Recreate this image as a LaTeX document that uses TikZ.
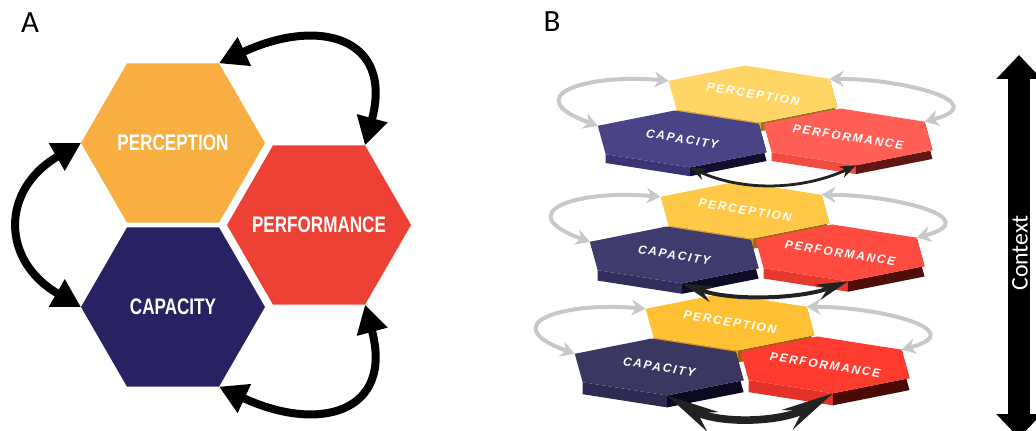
\documentclass[tikz,border=0pt]{standalone}
\usepackage{fontspec}
\setmainfont{Carlito}
\newfontfamily\hexfont[FakeStretch=0.76]{Liberation Sans}
\newfontfamily\slabfont[LetterSpace=15]{Liberation Sans}
\usetikzlibrary{arrows.meta, shapes.geometric, calc}

\definecolor{percA}{HTML}{F9AE42}
\definecolor{perfA}{HTML}{EE4136}
\definecolor{capaA}{HTML}{282262}
% layer colours: top face, front side, dark side
\definecolor{perB1}{HTML}{FFD566}\definecolor{perS1}{HTML}{D9A93A}\definecolor{perD1}{HTML}{9C7420}
\definecolor{capB1}{HTML}{4A4386}\definecolor{capS1}{HTML}{3A3474}\definecolor{capD1}{HTML}{120E2E}
\definecolor{prfB1}{HTML}{FF5F55}\definecolor{prfS1}{HTML}{F24B40}\definecolor{prfD1}{HTML}{5E1712}
\definecolor{perB2}{HTML}{FFC947}\definecolor{perS2}{HTML}{D99F2C}\definecolor{perD2}{HTML}{9A6C14}
\definecolor{capB2}{HTML}{3F3B6C}\definecolor{capS2}{HTML}{322F5C}\definecolor{capD2}{HTML}{0E0C24}
\definecolor{prfB2}{HTML}{FF4B40}\definecolor{prfS2}{HTML}{E63A30}\definecolor{prfD2}{HTML}{4E0E0A}
\definecolor{perB3}{HTML}{FFC133}\definecolor{perS3}{HTML}{D99520}\definecolor{perD3}{HTML}{986410}
\definecolor{capB3}{HTML}{3A3761}\definecolor{capS3}{HTML}{2E2B52}\definecolor{capD3}{HTML}{0C0A20}
\definecolor{prfB3}{HTML}{FF3B30}\definecolor{prfS3}{HTML}{E53228}\definecolor{prfD3}{HTML}{4A0A06}
\definecolor{linkgrey}{HTML}{C8C8C8}
\definecolor{linkdark}{HTML}{222222}

\newcommand{\slabdepth}{2.2mm}
% #1 name, #2 centre, #3 top colour, #4 front side, #5 dark side
\newcommand{\hexslab}[5]{%
  \coordinate (#1) at #2;
  \foreach \ang/\vx in {30/ur,90/t,150/ul,210/ll,270/b,330/lr}
    \coordinate (#1-\vx) at ($(#1)+(\ang:0.97)$);
  \fill[#4] (#1-ll) -- (#1-b) -- ($(#1-b)+(0mm,-\slabdepth)$) -- ($(#1-ll)+(0mm,-\slabdepth)$) -- cycle;
  \fill[#5] (#1-b) -- (#1-lr) -- (#1-ur) -- ($(#1-ur)+(0mm,-\slabdepth)$) -- ($(#1-lr)+(0mm,-\slabdepth)$) -- ($(#1-b)+(0mm,-\slabdepth)$) -- cycle;
  \fill[#3] (#1-ur) -- (#1-t) -- (#1-ul) -- (#1-ll) -- (#1-b) -- (#1-lr) -- cycle;
}

\tikzset{
  hexa/.style={regular polygon, regular polygon sides=6, minimum size=46mm, inner sep=0pt, outer sep=0pt},
  hexlabel/.style={text=white, inner sep=0pt, font=\hexfont\bfseries\fontsize{16}{18}\selectfont},
  loopy/.style={line width=2mm, {Triangle[length=7mm,width=7.5mm]}-{Triangle[length=7mm,width=7.5mm]}},
  greyloop/.style={draw=linkgrey, line width=1mm, {Stealth[length=3.5mm,width=4mm]}-{Stealth[length=3.5mm,width=4mm]}},
  linkthin/.style={draw=linkdark, line width=0.7mm, {Stealth[length=4mm,width=3mm]}-{Stealth[length=4mm,width=3mm]}},
  linkmid/.style={draw=linkdark, line width=1mm, {Stealth[length=8mm,width=4mm]}-{Stealth[length=8mm,width=4mm]}},
  linkbold/.style={draw=linkdark, line width=1.9mm, {Stealth[length=13mm,width=5.5mm]}-{Stealth[length=13mm,width=5.5mm]}},
  slabtext/.style={text=white, rotate=-9, inner sep=0pt, font=\slabfont\bfseries\itshape\fontsize{8.5}{9}\selectfont},
  ctxarrow/.style={line width=5.5mm, {Triangle[length=6mm,width=11mm]}-{Triangle[length=6mm,width=11mm]}}
}

\begin{document}
\begin{tikzpicture}[x=0.25mm, y=0.25mm]
\useasboundingbox (0,0) rectangle (1036,430);

% A
\node[font=\fontsize{22}{24}\selectfont] (labA) at (30,407) {A};
\node[hexa, fill=percA] (perc) at (173,287) {};
\node[hexa, fill=capaA] (capa) at (173,123) {};
\node[hexa, fill=perfA] (perf) at (319,205) {};
\node[hexlabel] (tperc) at (perc) {PERCEPTION};
\node[hexlabel] (tcapa) at (capa) {CAPACITY};
\node[hexlabel] (tperf) at (perf) {PERFORMANCE};
\draw[loopy] (perc.60) to[out=25,in=75,looseness=1.7] (perf.60);
\draw[loopy] (capa.-60) to[out=-25,in=-75,looseness=1.7] (perf.-60);
\draw[loopy] (perc.180) to[out=210,in=150,looseness=1.45] (capa.180);

% B
\node[font=\fontsize{22}{24}\selectfont] (labB) at (552,408) {B};

\begin{scope}[shift={(753,336)}, x={(23.95mm,0.3mm)}, y={(-2.025mm,7.325mm)}]
  \renewcommand{\slabdepth}{2.2mm}
  \hexslab{per1}{(0,0)}{perB1}{perS1}{perD1}
  \hexslab{cap1}{(-0.866,-1.5)}{capB1}{capS1}{capD1}
  \hexslab{prf1}{(0.866,-1.5)}{prfB1}{prfS1}{prfD1}
  \node[slabtext] (tper1) at (per1) {PERCEPTION};
  \node[slabtext] (tcap1) at (cap1) {CAPACITY};
  \node[slabtext] (tprf1) at (prf1) {PERFORMANCE};
\end{scope}

\begin{scope}[shift={(745,220)}, x={(23.95mm,0.3mm)}, y={(-2.025mm,7.325mm)}]
  \renewcommand{\slabdepth}{2.6mm}
  \hexslab{per2}{(0,0)}{perB2}{perS2}{perD2}
  \hexslab{cap2}{(-0.866,-1.5)}{capB2}{capS2}{capD2}
  \hexslab{prf2}{(0.866,-1.5)}{prfB2}{prfS2}{prfD2}
  \node[slabtext] (tper2) at (per2) {PERCEPTION};
  \node[slabtext] (tcap2) at (cap2) {CAPACITY};
  \node[slabtext] (tprf2) at (prf2) {PERFORMANCE};
\end{scope}

\begin{scope}[shift={(730,108)}, x={(23.95mm,0.3mm)}, y={(-2.025mm,7.325mm)}]
  \renewcommand{\slabdepth}{3mm}
  \hexslab{per3}{(0,0)}{perB3}{perS3}{perD3}
  \hexslab{cap3}{(-0.866,-1.5)}{capB3}{capS3}{capD3}
  \hexslab{prf3}{(0.866,-1.5)}{prfB3}{prfS3}{prfD3}
  \node[slabtext] (tper3) at (per3) {PERCEPTION};
  \node[slabtext] (tcap3) at (cap3) {CAPACITY};
  \node[slabtext] (tprf3) at (prf3) {PERFORMANCE};
\end{scope}

\draw[greyloop] (per1-ul) to[out=175,in=160,looseness=2.6] (cap1-ul);
\draw[greyloop] (per1-ur) to[out=0,in=15,looseness=1.8] (prf1-ur);
\draw[linkthin] (cap1-b) to[out=-25,in=-155,looseness=0.9] (prf1-b);

\draw[greyloop] (per2-ul) to[out=175,in=160,looseness=2.6] (cap2-ul);
\draw[greyloop] (per2-ur) to[out=0,in=15,looseness=1.8] (prf2-ur);
\draw[linkmid] (cap2-b) to[out=-20,in=-160,looseness=0.8] (prf2-b);

\draw[greyloop] (per3-ul) to[out=175,in=160,looseness=2.6] (cap3-ul);
\draw[greyloop] (per3-ur) to[out=0,in=15,looseness=1.8] (prf3-ur);
\draw[linkbold] (cap3-b) to[out=-30,in=-150,looseness=0.9] (prf3-b);

% context
\coordinate (ctxtop) at (1019,375);
\coordinate (ctxbot) at (1019,-8);
\draw[ctxarrow] (ctxbot) -- (ctxtop);
\node[rotate=90, text=white, font=\fontsize{17}{19}\selectfont] (ctx) at (1020,177) {Context};
\end{tikzpicture}
\end{document}
